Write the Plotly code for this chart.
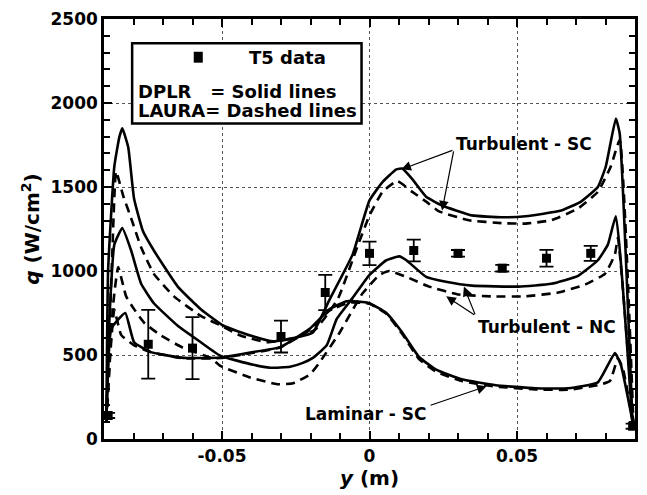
import plotly.graph_objects as go

# ---- T5 measurements ----
t5_y = [-0.0886, -0.075, -0.06, -0.03, -0.015, 0.0, 0.015, 0.03, 0.045, 0.06, 0.075, 0.0892]
t5_q = [140, 564, 541, 610, 872, 1105, 1122, 1105, 1017, 1076, 1105, 76]
t5_err = [15, 205, 185, 95, 105, 70, 65, 20, 20, 50, 45, 15]

# ---- Turbulent - SC ----
tsc_dplr_y = [-0.0892, -0.0886, -0.0865, -0.0848, -0.0838, -0.0818, -0.0798, -0.0768, -0.0731,
              -0.0650, -0.0572, -0.0495, -0.0404, -0.0327, -0.0246, -0.0192, -0.0135, -0.0057,
              0.0, 0.0044, 0.0091, 0.0111, 0.0145, 0.0192, 0.0246, 0.0347, 0.0448, 0.0529,
              0.0650, 0.0717, 0.0774, 0.0801, 0.0835, 0.0848, 0.0892]
tsc_dplr_q = [100, 1006, 1622, 1797, 1849, 1738, 1430, 1238, 1122,
              907, 773, 674, 616, 581, 605, 634, 831, 1099,
              1420, 1529, 1605, 1610, 1547, 1442, 1390, 1331, 1320, 1326,
              1360, 1413, 1500, 1622, 1907, 1820, 76]

tsc_laura_y = [-0.0892, -0.0872, -0.0859, -0.0835, -0.0808, -0.0774, -0.0731, -0.0663, -0.0572,
               -0.0498, -0.0438, -0.0347, -0.0259, -0.0185, -0.0108, -0.0040, 0.0, 0.0044,
               0.0094, 0.0145, 0.0192, 0.0236, 0.0337, 0.0448, 0.0529, 0.0616, 0.0707,
               0.0774, 0.0818, 0.0848, 0.0895]
tsc_laura_q = [100, 1100, 1593, 1448, 1314, 1140, 983, 849, 733,
               670, 616, 576, 599, 650, 831, 1150, 1331, 1471,
               1535, 1471, 1413, 1355, 1302, 1285, 1282, 1302, 1372,
               1471, 1622, 1779, 76]

# ---- Turbulent - NC ----
tnc_dplr_y = [-0.0892, -0.0882, -0.0865, -0.0838, -0.0808, -0.0774, -0.0731, -0.0650, -0.0572,
              -0.0505, -0.0394, -0.0337, -0.0269, -0.0226, -0.0192, -0.0145, -0.0111, -0.0057,
              0.0, 0.0057, 0.0101, 0.0125, 0.0192, 0.0259, 0.0347, 0.0505, 0.0616, 0.0707,
              0.0774, 0.0808, 0.0835, 0.0892]
tnc_dplr_q = [100, 700, 1157, 1256, 1122, 924, 808, 674, 576,
              495, 442, 424, 430, 453, 483, 558, 715, 840,
              977, 1064, 1087, 1064, 965, 936, 913, 907, 924, 971,
              1064, 1157, 1326, 76]

tnc_laura_y = [-0.0892, -0.0869, -0.0852, -0.0825, -0.0798, -0.0764, -0.0707, -0.0630, -0.0539,
               -0.0505, -0.0404, -0.0313, -0.0259, -0.0202, -0.0168, -0.0101, -0.0024, 0.0034,
               0.0067, 0.0125, 0.0202, 0.0303, 0.0414, 0.0529, 0.0640, 0.0731, 0.0798,
               0.0832, 0.0842, 0.0895]
tnc_laura_q = [100, 800, 1023, 849, 773, 692, 616, 541, 483,
               435, 366, 326, 332, 384, 459, 634, 866, 977,
               1000, 965, 907, 860, 849, 849, 872, 919, 983,
               1099, 1198, 76]

# ---- Laminar - SC ----
lam_dplr_y = [-0.0892, -0.0875, -0.0828, -0.0798, -0.0741, -0.0630, -0.0505, -0.0404, -0.0303,
              -0.0202, -0.0135, -0.0077, -0.0024, 0.0, 0.0057, 0.0111, 0.0168, 0.0226,
              0.0313, 0.0428, 0.0562, 0.0673, 0.0774, 0.0832, 0.0852, 0.0895]
lam_dplr_q = [100, 657, 750, 576, 517, 483, 485, 515, 547,
              657, 773, 820, 815, 808, 750, 634, 488, 413,
              355, 320, 302, 302, 337, 512, 442, 76]

lam_laura_y = [-0.0892, -0.0879, -0.0865, -0.0842, -0.0798, -0.0741, -0.0630, -0.0505, -0.0404,
               -0.0303, -0.0202, -0.0135, -0.0067, 0.0, 0.0057, 0.0111, 0.0168, 0.0226,
               0.0313, 0.0428, 0.0562, 0.0673, 0.0774, 0.0815, 0.0842, 0.0859, 0.0895]
lam_laura_q = [100, 500, 770, 620, 558, 517, 480, 482, 510,
               545, 650, 765, 812, 805, 745, 625, 475, 400,
               345, 312, 295, 293, 320, 345, 480, 420, 76]

# ---- axis ticks ----
x_ticks = [-0.05, 0, 0.05]
x_tick_text = ["-0.05", "0", "0.05"]
y_ticks = [0, 500, 1000, 1500, 2000, 2500]

FONT = "DejaVu Sans"
solid = dict(color="black", width=2.6, shape="spline", smoothing=0.4)
dashed = dict(color="black", width=2.6, dash="9px,6px", shape="spline", smoothing=0.4)

fig = go.Figure()
for yy, qq, ln in [
    (tsc_dplr_y, tsc_dplr_q, solid), (tsc_laura_y, tsc_laura_q, dashed),
    (tnc_dplr_y, tnc_dplr_q, solid), (tnc_laura_y, tnc_laura_q, dashed),
    (lam_dplr_y, lam_dplr_q, solid), (lam_laura_y, lam_laura_q, dashed),
]:
    fig.add_trace(go.Scatter(x=yy, y=qq, mode="lines", line=ln,
                             showlegend=False, hoverinfo="skip"))

fig.add_trace(go.Scatter(
    x=t5_y, y=t5_q, mode="markers",
    marker=dict(symbol="square", size=9, color="black"),
    error_y=dict(type="data", array=t5_err, visible=True,
                 color="black", thickness=1.8, width=7),
    showlegend=False, cliponaxis=False,
))

axis_common = dict(
    showline=True, linecolor="black", linewidth=2.5, mirror="allticks",
    ticks="inside", ticklen=8, tickwidth=1.5, tickcolor="black",
    showgrid=True, gridcolor="#555555", gridwidth=1, griddash="dot",
    zeroline=False,
    tickfont=dict(family=FONT, size=17, color="black", weight="bold"),
)

fig.update_xaxes(
    range=[-0.09, 0.09], tickvals=x_ticks, ticktext=x_tick_text,
    minor=dict(dtick=0.01, tick0=0, ticks="inside", ticklen=6,
               tickwidth=1.5, tickcolor="black", showgrid=False),
    title=dict(text="<i>y</i> (m)", standoff=6,
               font=dict(family=FONT, size=20, color="black", weight="bold")),
    **axis_common,
)
fig.update_yaxes(
    range=[0, 2500], tickvals=y_ticks,
    minor=dict(dtick=100, tick0=0, ticks="inside", ticklen=6,
               tickwidth=1.5, tickcolor="black", showgrid=False),
    title=dict(text="<i>q</i> (W/cm<sup>2</sup>)", standoff=6,
               font=dict(family=FONT, size=20, color="black", weight="bold")),
    **axis_common,
)

# legend box drawn in paper coordinates
fig.add_shape(type="rect", xref="paper", yref="paper",
              x0=0.053, x1=0.485, y0=0.751, y1=0.942,
              line=dict(color="black", width=2.5), fillcolor="white", layer="above")
fig.add_shape(type="rect", xref="paper", yref="paper",
              x0=0.169, x1=0.186, y0=0.896, y1=0.922,
              line=dict(width=0), fillcolor="black", layer="above")
lab_font = dict(family=FONT, size=18, color="black", weight="bold")
curve_font = dict(family=FONT, size=17, color="black", weight="bold")
fig.add_annotation(xref="paper", yref="paper", x=0.345, y=0.909, text="T5 data",
                   showarrow=False, font=lab_font, xanchor="center", yanchor="middle")
fig.add_annotation(xref="paper", yref="paper", x=0.060, y=0.828, text="DPLR   = Solid lines",
                   showarrow=False, font=lab_font, xanchor="left", yanchor="middle")
fig.add_annotation(xref="paper", yref="paper", x=0.060, y=0.782, text="LAURA= Dashed lines",
                   showarrow=False, font=lab_font, xanchor="left", yanchor="middle")

# curve labels with leader arrows
def label(text, x, y):
    fig.add_annotation(x=x, y=y, text=text, showarrow=False, font=curve_font,
                       xanchor="center", yanchor="middle", bgcolor="rgba(0,0,0,0)")

def arrow(tail, head):
    fig.add_annotation(x=head[0], y=head[1], ax=tail[0], ay=tail[1],
                       axref="x", ayref="y", xref="x", yref="y", text="",
                       showarrow=True, arrowhead=2, arrowsize=1.6, arrowwidth=1.2,
                       arrowcolor="black", standoff=0)

label("Turbulent - SC", 0.0525, 1756)
arrow((0.0286, 1721), (0.0108, 1605))
arrow((0.0286, 1721), (0.0246, 1360))

label("Turbulent - NC", 0.060, 669)
arrow((0.036, 733), (0.026, 849))
arrow((0.036, 733), (0.032, 907))

label("Laminar - SC", -0.0013, 151)
arrow((0.0202, 198), (0.0397, 314))

fig.update_layout(
    width=647, height=495,
    margin=dict(l=104, r=9, t=16, b=49),
    plot_bgcolor="white", paper_bgcolor="white",
    showlegend=False,
)

fig.write_html("out.html")
